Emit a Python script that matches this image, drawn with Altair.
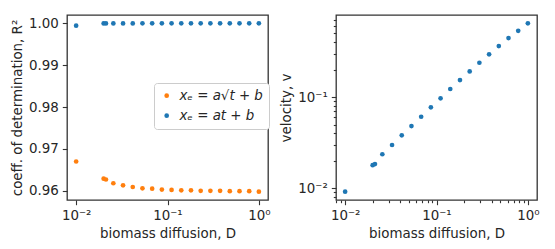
import altair as alt
import pandas as pd

# Biomass diffusion values (x for both panels)
D = [0.01, 0.02, 0.0212, 0.02554, 0.03262, 0.04166, 0.0532, 0.06794, 0.08677,
     0.1108, 0.1415, 0.1807, 0.2308, 0.2947, 0.3764, 0.4807, 0.6139, 0.784, 1.0]

# Coefficient of determination for the two fits
R2_sqrt = [0.967, 0.9629, 0.9627, 0.9618, 0.9613, 0.9609, 0.9606, 0.9605, 0.9603,
           0.9602, 0.9601, 0.9601, 0.9600, 0.9600, 0.9600, 0.9599, 0.9599, 0.9599, 0.9598]
R2_lin = [0.99945, 0.99998, 0.99998, 0.99999, 0.99999, 0.99999, 1.0, 1.0, 1.0,
          1.0, 1.0, 1.0, 1.0, 1.0, 1.0, 1.0, 1.0, 1.0, 1.0]

# Front velocity
V = [0.00918, 0.0179, 0.0184, 0.0236, 0.0298, 0.038, 0.0481, 0.0608, 0.0771,
     0.0968, 0.1225, 0.1535, 0.191, 0.238, 0.294, 0.362, 0.443, 0.533, 0.643]

LBL_SQRT = "xₑ = a√t + b"
LBL_LIN = "xₑ = at + b"
SERIES = [LBL_SQRT, LBL_LIN]
COLORS = ["#ff7f0e", "#1f77b4"]

X_TICKS = [0.008, 0.009, 0.01, 0.02, 0.03, 0.04, 0.05, 0.06, 0.07, 0.08, 0.09,
           0.1, 0.2, 0.3, 0.4, 0.5, 0.6, 0.7, 0.8, 0.9, 1.0]
V_TICKS = [0.008, 0.009, 0.01, 0.02, 0.03, 0.04, 0.05, 0.06, 0.07, 0.08, 0.09,
           0.1, 0.2, 0.3, 0.4, 0.5, 0.6, 0.7]
R2_TICKS = [0.96, 0.97, 0.98, 0.99, 1.0]

left_df = pd.DataFrame({
    "D": D + D,
    "R2": R2_sqrt + R2_lin,
    "fit": [LBL_SQRT] * len(D) + [LBL_LIN] * len(D),
})
right_df = pd.DataFrame({"D": D, "v": V})

FONT = "DejaVu Sans"
TXT = "#262626"
LINE = "#333333"
FS = 13.4

pow_label = ("datum.value == 0.01 ? '10⁻²' : datum.value == 0.1 ? '10⁻¹' : "
             "datum.value == 1 ? '10⁰' : ''")
is_major = "abs(log(datum.value)/LN10 - round(log(datum.value)/LN10)) < 1e-6"

x_dom = [10 ** -2.1, 10 ** 0.1]

left = alt.Chart(left_df).mark_circle(size=22, opacity=1).encode(
    x=alt.X("D:Q",
            scale=alt.Scale(type="log", domain=x_dom, nice=False),
            axis=alt.Axis(values=[0.01, 0.1, 1.0], labelExpr=pow_label,
                          title="biomass diffusion, D")),
    y=alt.Y("R2:Q",
            scale=alt.Scale(domain=[0.9578, 1.002], nice=False, zero=False),
            axis=alt.Axis(values=R2_TICKS, format=".2f",
                          title="coeff. of determination, R²")),
    color=alt.Color("fit:N",
                    scale=alt.Scale(domain=SERIES, range=COLORS),
                    sort=SERIES,
                    legend=alt.Legend(title=None, orient="none",
                                      legendX=87, legendY=68,
                                      symbolType="circle", symbolSize=22,
                                      labelFontSize=FS, labelFont=FONT,
                                      labelFontStyle="italic", labelColor=TXT,
                                      padding=6, rowPadding=5, labelOffset=6,
                                      strokeColor="#cccccc", fillColor="white",
                                      cornerRadius=3)),
).properties(width=201, height=185)

right = alt.Chart(right_df).mark_circle(size=22, opacity=1, color="#1f77b4").encode(
    x=alt.X("D:Q",
            scale=alt.Scale(type="log", domain=x_dom, nice=False),
            axis=alt.Axis(values=X_TICKS, labelExpr=pow_label,
                          tickSize={"condition": {"test": is_major, "value": 4.7}, "value": 2.7},
                          title="biomass diffusion, D")),
    y=alt.Y("v:Q",
            scale=alt.Scale(type="log", domain=[10 ** -2.129, 10 ** -0.1], nice=False),
            axis=alt.Axis(values=V_TICKS, labelExpr=pow_label,
                          tickSize={"condition": {"test": is_major, "value": 4.7}, "value": 2.7},
                          title="velocity, v")),
).properties(width=201, height=185)

chart = alt.hconcat(left, right, spacing=8).properties(
    padding={"left": 1, "top": 4, "right": 2, "bottom": 2}
).configure_view(
    stroke=LINE, strokeWidth=1.3
).configure_axis(
    domain=False, grid=False,
    tickColor=LINE, tickWidth=1.1, tickSize=4.7,
    labelPadding=4, labelFont=FONT, labelFontSize=FS, labelColor=TXT,
    labelOverlap=False, labelFlush=False,
    titleFont=FONT, titleFontSize=FS, titleFontWeight="normal", titleColor=TXT,
    titlePadding=4,
).configure_legend(
    labelLimit=0
)

chart.save("out.html", embed_options={"renderer": "svg", "actions": False})
